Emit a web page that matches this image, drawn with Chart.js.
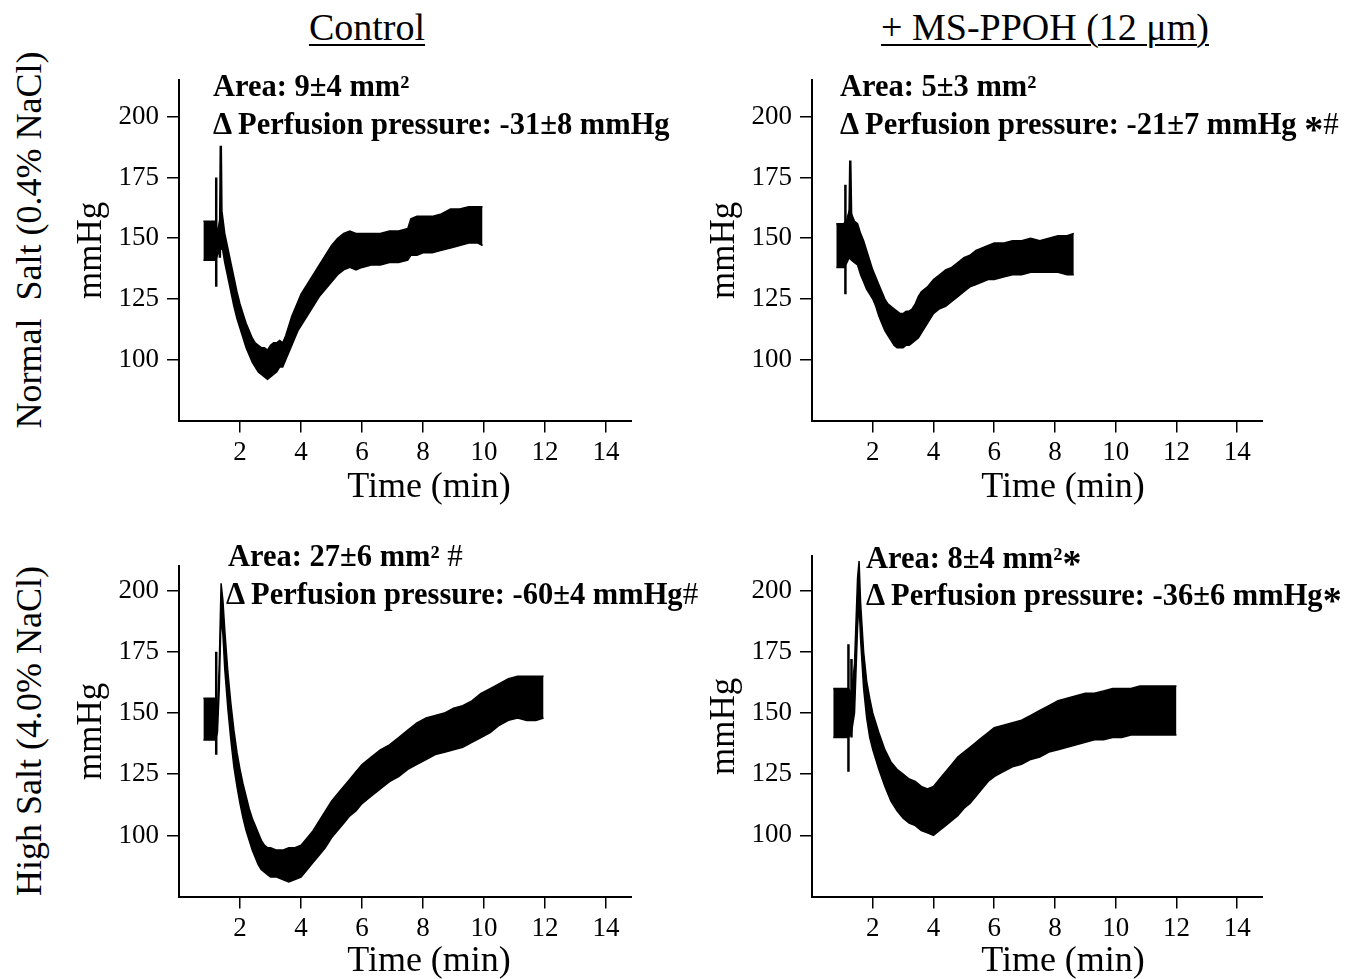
<!DOCTYPE html>
<html>
<head>
<meta charset="utf-8">
<script src="https://cdn.jsdelivr.net/npm/chart.js@4.4.1/dist/chart.umd.min.js"></script>
<style>
  body { margin: 0; background: #fff; width: 1353px; height: 979px; position: relative; overflow: hidden;
         font-family: "Liberation Serif", "Times New Roman", serif; color: #000; }
  canvas { position: absolute; }
  .t { position: absolute; white-space: nowrap; line-height: 1; }
  .col { font-size: 38px; transform: translate(-50%, -50%); text-decoration: underline;
         text-decoration-thickness: 2px; text-underline-offset: 4px; }
  .row { font-size: 36px; transform: translate(-50%, -50%) rotate(-90deg); }
  .xt { font-size: 36px; transform: translate(-50%, -50%); }
  .note { font-size: 30.5px; font-weight: bold; }
  .ast { font-size: 38px; font-weight: bold; line-height: 0; position: relative; top: 0.22em; }
  .hash { font-size: 31px; font-weight: normal; line-height: 0; }
</style>
</head>
<body>
<canvas id="p1"></canvas>
<canvas id="p2"></canvas>
<canvas id="p3"></canvas>
<canvas id="p4"></canvas>

<div class="t col" style="left:367px; top:27px;">Control</div>
<div class="t col" style="left:1045px; top:27px;">+ MS-PPOH (12 μm)</div>
<div class="t row" style="left:29px; top:240px;">Normal&nbsp;&nbsp;Salt (0.4% NaCl)</div>
<div class="t row" style="left:29px; top:731px;">High Salt (4.0% NaCl)</div>

<div class="t xt" style="left:429px; top:485px;">Time (min)</div>
<div class="t xt" style="left:1063px; top:485px;">Time (min)</div>
<div class="t xt" style="left:429px; top:959px;">Time (min)</div>
<div class="t xt" style="left:1063px; top:959px;">Time (min)</div>

<div class="t note" style="left:213px; top:71px;">Area: 9±4 mm²</div>
<div class="t note" style="left:213px; top:109px;">Δ Perfusion pressure: -31±8 mmHg</div>

<div class="t note" style="left:840px; top:71px;">Area: 5±3 mm²</div>
<div class="t note" style="left:840px; top:109px;">Δ Perfusion pressure: -21±7 mmHg <span class="ast">*</span><span class="hash">#</span></div>

<div class="t note" style="left:228px; top:541px;">Area: 27±6 mm² <span class="hash">#</span></div>
<div class="t note" style="left:226px; top:579px;">Δ Perfusion pressure: -60±4 mmHg<span class="hash">#</span></div>

<div class="t note" style="left:866px; top:543px;">Area: 8±4 mm²<span class="ast">*</span></div>
<div class="t note" style="left:866px; top:580px;">Δ Perfusion pressure: -36±6 mmHg<span class="ast">*</span></div>

<script>
const SERIF = '"Liberation Serif", "Times New Roman", serif';

const xTicks = [2, 4, 6, 8, 10, 12, 14];
const yTicks = [100, 125, 150, 175, 200];

// Control, normal salt: envelope of the pressure trace (min, mmHg)
const ctlNormTime  = [0.8, 1.2, 1.26, 1.34, 1.42, 1.5, 1.6, 1.7, 1.8, 1.9, 2.0, 2.1, 2.2, 2.3, 2.4, 2.5, 2.6, 2.7, 2.8, 2.9, 3.0, 3.1, 3.2, 3.3, 3.4, 3.5, 3.6, 3.7, 3.8, 3.9, 4.0, 4.2, 4.4, 4.6, 4.8, 5.0, 5.2, 5.4, 5.6, 5.8, 6.0, 6.3, 6.6, 6.9, 7.2, 7.5, 7.6, 7.8, 8.0, 8.3, 8.6, 8.9, 9.2, 9.5, 9.8, 9.95];
const ctlNormUpper = [157, 157, 152, 158, 160, 152, 146, 140, 134, 128, 123, 119, 115, 112, 109, 107, 106, 105, 105, 104, 106, 107, 107, 108, 107, 110, 114, 118, 121, 124, 127, 131, 135, 139, 143, 147, 150, 152, 153, 152, 152, 152, 152, 153, 153, 154, 158, 159, 159, 159, 160, 162, 162, 163, 163, 163];
const ctlNormLower = [141, 141, 143, 145, 146, 140, 134, 128, 122, 117, 113, 109, 105, 102, 99, 97, 95, 94, 93, 92, 93, 94, 95, 97, 97, 100, 103, 106, 109, 112, 114, 118, 122, 126, 129, 132, 135, 137, 138, 137, 138, 139, 139, 140, 140, 141, 143, 143, 144, 144, 145, 146, 147, 148, 148, 147];
const ctlNormSpikeT = [[1.22, 1.22], [1.34, 1.37, 1.40]];
const ctlNormSpikeV = [[130, 175], [142, 188, 150]];

// MS-PPOH, normal salt
const ppohNormTime  = [0.8, 1.05, 1.15, 1.22, 1.3, 1.4, 1.5, 1.6, 1.7, 1.8, 1.9, 2.0, 2.1, 2.2, 2.3, 2.4, 2.5, 2.6, 2.7, 2.8, 2.9, 3.0, 3.1, 3.2, 3.3, 3.4, 3.5, 3.6, 3.8, 4.0, 4.2, 4.4, 4.6, 4.8, 5.0, 5.2, 5.4, 5.6, 5.8, 6.0, 6.3, 6.6, 6.9, 7.2, 7.5, 7.8, 8.1, 8.4, 8.62];
const ppohNormUpper = [156, 156, 158, 161, 160, 157, 156, 152, 149, 145, 141, 137, 134, 131, 128, 125, 123, 122, 121, 120, 119, 119, 120, 120, 121, 123, 126, 128, 130, 133, 135, 137, 138, 140, 142, 143, 145, 146, 147, 148, 148, 149, 149, 150, 149, 150, 151, 151, 152];
const ppohNormLower = [138, 138, 140, 142, 141, 140, 139, 135, 132, 129, 127, 125, 122, 118, 115, 112, 110, 108, 106, 105, 105, 105, 106, 106, 107, 108, 109, 111, 115, 119, 121, 122, 124, 126, 128, 130, 131, 132, 133, 133, 134, 135, 135, 136, 136, 136, 136, 135, 135];
const ppohNormSpikeT = [[1.1, 1.1], [1.22, 1.26, 1.3]];
const ppohNormSpikeV = [[127, 172], [145, 182, 150]];

// Control, high salt
const ctlHighTime  = [0.8, 1.2, 1.26, 1.32, 1.38, 1.44, 1.5, 1.6, 1.7, 1.8, 1.9, 2.0, 2.1, 2.2, 2.3, 2.4, 2.5, 2.6, 2.7, 2.8, 2.9, 3.0, 3.2, 3.4, 3.6, 3.8, 4.0, 4.2, 4.4, 4.6, 4.8, 5.0, 5.2, 5.4, 5.6, 5.8, 6.0, 6.3, 6.6, 6.9, 7.2, 7.5, 7.8, 8.1, 8.4, 8.7, 9.0, 9.3, 9.6, 9.9, 10.2, 10.5, 10.8, 11.1, 11.4, 11.7, 11.95];
const ctlHighUpper = [156, 156, 150, 170, 203, 196, 184, 167, 154, 143, 134, 127, 121, 116, 111, 107, 104, 101, 98, 96, 95, 95, 94, 94, 95, 95, 96, 99, 102, 106, 110, 114, 117, 120, 123, 126, 129, 132, 135, 137, 140, 143, 146, 148, 149, 150, 152, 153, 155, 158, 160, 162, 164, 165, 165, 165, 165];
const ctlHighLower = [139, 139, 142, 160, 190, 182, 168, 152, 139, 128, 120, 113, 107, 102, 98, 94, 91, 88, 86, 85, 84, 83, 83, 82, 81, 82, 83, 86, 89, 92, 95, 99, 102, 105, 108, 110, 113, 116, 119, 122, 124, 127, 129, 131, 133, 134, 135, 136, 138, 140, 142, 145, 147, 148, 147, 147, 148];
const ctlHighSpikeT = [[1.22, 1.22]];
const ctlHighSpikeV = [[133, 175]];

// MS-PPOH, high salt
const ppohHighTime  = [0.7, 1.2, 1.3, 1.4, 1.5, 1.55, 1.6, 1.7, 1.8, 1.9, 2.0, 2.2, 2.4, 2.6, 2.8, 3.0, 3.2, 3.4, 3.6, 3.8, 4.0, 4.2, 4.4, 4.6, 4.8, 5.0, 5.2, 5.4, 5.6, 5.8, 6.0, 6.3, 6.6, 6.9, 7.2, 7.5, 7.8, 8.1, 8.4, 8.7, 9.0, 9.3, 9.6, 9.9, 10.2, 10.5, 10.8, 11.1, 11.4, 11.7, 12.0];
const ppohHighUpper = [160, 160, 158, 170, 205, 212, 195, 175, 163, 156, 150, 142, 135, 130, 127, 125, 123, 122, 120, 119, 120, 123, 126, 129, 132, 134, 136, 138, 140, 142, 144, 145, 146, 147, 149, 151, 153, 155, 156, 157, 158, 158, 159, 160, 160, 160, 161, 161, 161, 161, 161];
const ppohHighLower = [140, 140, 142, 150, 185, 195, 180, 160, 148, 140, 135, 127, 120, 114, 110, 107, 105, 104, 102, 101, 100, 102, 104, 106, 108, 111, 113, 116, 119, 122, 124, 126, 128, 129, 131, 132, 134, 135, 136, 137, 138, 139, 139, 140, 140, 141, 141, 141, 141, 141, 141];
const ppohHighSpikeT = [[1.2, 1.2], [1.3, 1.3]];
const ppohHighSpikeV = [[126, 178], [140, 172]];

function pts(t, v) {
    return t.map((x, i) => ({ x: x, y: v[i] }));
}

function axisStyle() {
    return {
        grid: { drawOnChartArea: false, drawTicks: true, tickLength: 12, color: "#000", lineWidth: 1.5 },
        border: { display: true, color: "#000", width: 2 },
    };
}

function panelConfig(time, upper, lower, spikeT, spikeV, yMax) {
    const datasets = [
        { data: pts(time, upper), borderColor: "#000", borderWidth: 1.5, pointRadius: 0, fill: false },
        { data: pts(time, lower), borderColor: "#000", borderWidth: 1.5, pointRadius: 0, fill: "-1", backgroundColor: "#000" },
    ];
    spikeT.forEach((t, i) => {
        datasets.push({ data: pts(t, spikeV[i]), borderColor: "#000", borderWidth: 2.5, pointRadius: 0, fill: false });
    });
    return {
        type: "line",
        data: { datasets: datasets },
        options: {
            responsive: false,
            animation: false,
            devicePixelRatio: 1,
            layout: { padding: 0 },
            plugins: { legend: { display: false }, tooltip: { enabled: false } },
            scales: {
                x: {
                    type: "linear", min: 0, max: 14.85,
                    afterBuildTicks: (s) => { s.ticks = xTicks.map((v) => ({ value: v })); },
                    ...axisStyle(),
                    ticks: { color: "#000", font: { family: SERIF, size: 27 }, padding: 4, maxRotation: 0, autoSkip: false },
                },
                y: {
                    type: "linear", min: 75, max: yMax,
                    afterBuildTicks: (s) => { s.ticks = yTicks.map((v) => ({ value: v })); },
                    afterFit: (s) => { s.width = 108; },
                    ...axisStyle(),
                    ticks: { color: "#000", font: { family: SERIF, size: 27 }, padding: 8, autoSkip: false },
                    title: { display: true, text: "mmHg", color: "#000", font: { family: SERIF, size: 35 }, padding: { top: 0, bottom: 0 } },
                },
            },
        },
    };
}

// build twice: first to measure the plot area, then sized so it lands on the target box
function build(id, area, makeCfg) {
    const cv = document.getElementById(id);
    const tw = area.right - area.left, th = area.bottom - area.top;
    let w = tw + 150, h = th + 80;
    cv.width = w; cv.height = h;
    let chart = new Chart(cv, makeCfg());
    const ca = chart.chartArea;
    w += tw - (ca.right - ca.left);
    h += th - (ca.bottom - ca.top);
    chart.destroy();
    cv.width = w; cv.height = h;
    cv.style.width = w + "px"; cv.style.height = h + "px";
    chart = new Chart(cv, makeCfg());
    cv.style.left = (area.left - chart.chartArea.left) + "px";
    cv.style.top = (area.top - chart.chartArea.top) + "px";
}

build("p1", { left: 179, right: 632, top: 80, bottom: 421 },
    () => panelConfig(ctlNormTime, ctlNormUpper, ctlNormLower, ctlNormSpikeT, ctlNormSpikeV, 215));
build("p2", { left: 812, right: 1263, top: 80, bottom: 421 },
    () => panelConfig(ppohNormTime, ppohNormUpper, ppohNormLower, ppohNormSpikeT, ppohNormSpikeV, 215));
build("p3", { left: 179, right: 632, top: 566, bottom: 897 },
    () => panelConfig(ctlHighTime, ctlHighUpper, ctlHighLower, ctlHighSpikeT, ctlHighSpikeV, 210));
build("p4", { left: 812, right: 1263, top: 556, bottom: 897 },
    () => panelConfig(ppohHighTime, ppohHighUpper, ppohHighLower, ppohHighSpikeT, ppohHighSpikeV, 214));
</script>
</body>
</html>
